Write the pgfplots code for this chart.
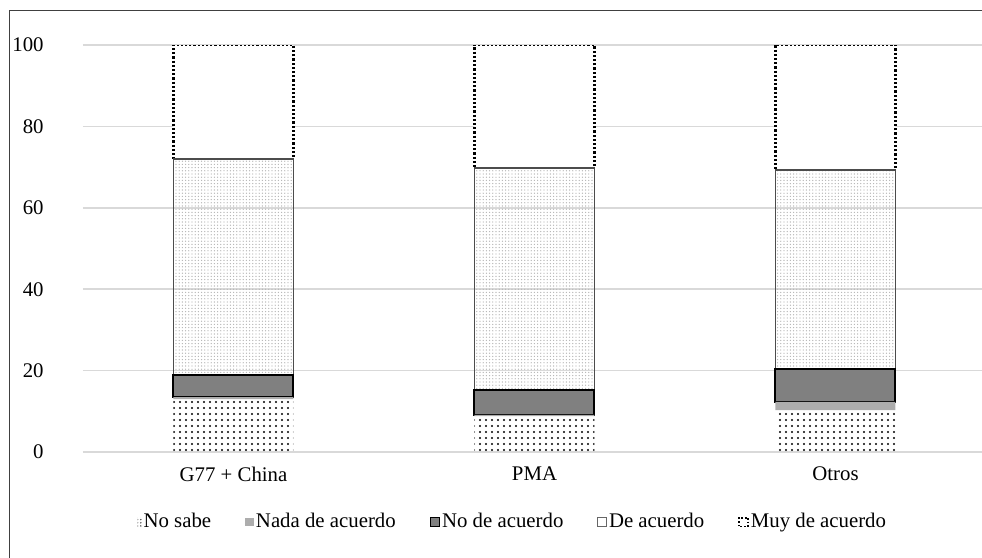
\documentclass[border=0pt]{standalone}
\usepackage{pgfplots}
\pgfplotsset{compat=1.18}
\usepackage{fontspec}
\setmainfont{Liberation Serif}
\usetikzlibrary{patterns,patterns.meta}
\definecolor{gridc}{HTML}{D9D9D9}
\definecolor{nadac}{HTML}{ADADAD}
\definecolor{noacc}{HTML}{808080}
\begin{document}
\begin{tikzpicture}
\useasboundingbox (0pt,0pt) rectangle (491pt,279pt);
\draw[black!75, line width=0.8pt] (4.75pt,0pt) -- (4.75pt,273.75pt) -- (491pt,273.75pt);
\begin{axis}[
  at={(41.5pt,53pt)}, anchor=south west,
  width=451.5pt, height=203.5pt, scale only axis,
  ybar stacked, bar width=60pt,
  xmin=-0.5, xmax=2.5, ymin=0, ymax=100,
  xtick={0,1,2}, xticklabels={G77 + China, PMA, Otros},
  ytick={0,20,...,100},
  ymajorgrids, grid style={gridc, line width=0.75pt},
  axis line style={draw=none},
  major tick length=0pt,
  /pgf/number format/assume math mode=true,
  tick label style={font=\fontsize{10.4}{12}\selectfont},
  yticklabel style={anchor=east, inner sep=0pt, xshift=-19.5pt},
  xticklabel style={yshift=-4pt},
  legend style={draw=none, fill=none, at={(0.476,-0.172)}, anchor=center,
    legend columns=5, font=\fontsize{10.4}{12}\selectfont,
    /tikz/every even column/.append style={column sep=16pt},
    nodes={inner sep=1pt}},
  legend cell align=left,
]
\addplot[draw=none, pattern={Dots[distance=3pt, radius=0.6pt]}, pattern color=black,
  legend image code/.code={\path[pattern={Dots[distance=1.6pt, radius=0.4pt]}, pattern color=black!70] (2.4pt,-2.2pt) rectangle (4.4pt,2.2pt);}]
  coordinates {(0,13.0) (1,8.8) (2,10.3)};
\addplot[draw=none, fill=nadac,
  legend image code/.code={\path[fill=nadac] (0pt,-2.2pt) rectangle (4.4pt,2.2pt);}]
  coordinates {(0,0.5) (1,0.3) (2,2.0)};
\addplot[draw=black, line width=1pt, fill=noacc,
  legend image code/.code={\draw[fill=noacc, draw=black, line width=0.8pt] (0pt,-2.2pt) rectangle (4.4pt,2.2pt);}]
  coordinates {(0,5.4) (1,6.1) (2,8.1)};
\addplot[draw=black!70, line width=0.6pt, pattern={Dots[distance=1.6pt, radius=0.34pt]}, pattern color=black!30,
  legend image code/.code={\draw[fill=white, draw=black!60, line width=0.4pt] (0pt,-2.2pt) rectangle (4.4pt,2.2pt);}]
  coordinates {(0,53.1) (1,54.6) (2,48.9)};
\addplot[draw=black, line width=1.1pt, dash pattern=on 1.1pt off 1pt, fill=white,
  legend image code/.code={\draw[fill=white, draw=black, line width=0.9pt, dash pattern=on 0.9pt off 0.9pt] (0pt,-2.2pt) rectangle (4.4pt,2.2pt);}]
  coordinates {(0,28.0) (1,30.2) (2,30.7)};
\legend{No sabe, Nada de acuerdo, No de acuerdo, De acuerdo, Muy de acuerdo}
\end{axis}
\end{tikzpicture}
\end{document}
